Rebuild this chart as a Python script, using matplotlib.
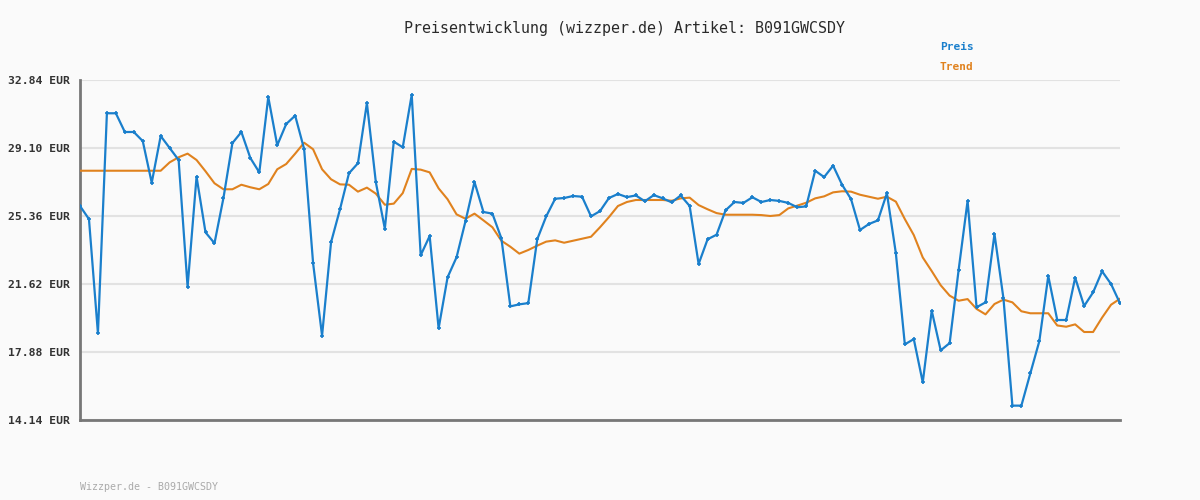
import matplotlib
matplotlib.use('Agg')
import matplotlib.pyplot as plt
import numpy as np

# prices (EUR)
preis = [25.91, 25.19, 18.91, 31.01, 31.01, 29.98, 29.98, 29.48, 27.19, 29.76,
         29.10, 28.44, 21.47, 27.52, 24.46, 23.86, 26.35, 29.37, 29.98, 28.55,
         27.76, 31.90, 29.25, 30.42, 30.88, 29.04, 22.76, 18.78, 23.91, 25.73,
         27.71, 28.26, 31.57, 27.21, 24.66, 29.45, 29.14, 32.03, 23.20, 24.26,
         19.18, 21.99, 23.09, 25.08, 27.23, 25.58, 25.49, 24.13, 20.39, 20.50,
         20.57, 24.08, 25.34, 26.31, 26.35, 26.46, 26.42, 25.34, 25.63, 26.35,
         26.57, 26.40, 26.49, 26.17, 26.51, 26.33, 26.11, 26.49, 25.91, 22.72,
         24.08, 24.33, 25.67, 26.13, 26.08, 26.39, 26.13, 26.24, 26.19, 26.08,
         25.84, 25.89, 27.85, 27.50, 28.13, 27.08, 26.29, 24.59, 24.92, 25.12,
         26.61, 23.31, 18.30, 18.59, 16.21, 20.15, 17.97, 18.37, 22.39, 26.19,
         20.34, 20.61, 24.37, 20.83, 14.93, 14.93, 16.71, 18.47, 22.06, 19.64,
         19.64, 21.97, 20.41, 21.16, 22.32, 21.62, 20.56]

trend = [27.85, 27.85, 27.85, 27.85, 27.85, 27.85, 27.85, 27.85, 27.85, 27.85,
         28.31, 28.59, 28.79, 28.44, 27.82, 27.16, 26.83, 26.83, 27.08, 26.94,
         26.83, 27.12, 27.93, 28.22, 28.79, 29.39, 29.03, 27.93, 27.38, 27.10,
         27.08, 26.70, 26.92, 26.59, 25.98, 26.04, 26.62, 27.95, 27.91, 27.76,
         26.88, 26.28, 25.45, 25.21, 25.49, 25.12, 24.74, 24.00, 23.67, 23.29,
         23.49, 23.73, 23.95, 24.02, 23.89, 24.00, 24.11, 24.22, 24.74, 25.30,
         25.91, 26.13, 26.24, 26.24, 26.24, 26.24, 26.20, 26.33, 26.37, 25.96,
         25.73, 25.52, 25.43, 25.43, 25.43, 25.43, 25.41, 25.36, 25.41, 25.78,
         25.93, 26.09, 26.33, 26.44, 26.66, 26.72, 26.70, 26.53, 26.42, 26.31,
         26.42, 26.15, 25.19, 24.31, 23.08, 22.33, 21.55, 20.98, 20.70, 20.79,
         20.25, 19.95, 20.52, 20.76, 20.61, 20.12, 20.01, 20.01, 20.01, 19.34,
         19.27, 19.40, 18.98, 18.98, 19.77, 20.48, 20.81]

y_ticks = [14.14, 17.88, 21.62, 25.36, 29.10, 32.84]
artikel = 'B091GWCSDY'

BLUE = '#1a7fcc'
ORANGE = '#e0821e'
BG = '#fafafa'
MONO = 'DejaVu Sans Mono'

fig = plt.figure(figsize=(12, 5), dpi=100, facecolor=BG)
ax = fig.add_axes([80 / 1200, 1 - 420 / 500, 1040 / 1200, 340 / 500])
ax.set_facecolor(BG)

x = np.arange(len(preis))
ax.plot(x, trend, color=ORANGE, lw=1.5, zorder=3)
ax.plot(x, preis, color=BLUE, lw=1.6, marker='+', ms=3, mew=1.2, zorder=4)

ax.set_xlim(0, len(preis) - 1)
ax.set_ylim(y_ticks[0], y_ticks[-1])
ax.set_yticks(y_ticks)
ax.set_yticklabels(['%.2f EUR' % v for v in y_ticks], fontfamily=MONO,
                   fontsize=8.2, fontweight='bold', color='#333333')
ax.set_xticks([])
ax.tick_params(axis='y', length=0, pad=7)
ax.grid(axis='y', color='#e2e2e2', lw=1.5, zorder=0)

for side in ['top', 'right']:
    ax.spines[side].set_visible(False)
for side in ['left', 'bottom']:
    ax.spines[side].set_color('#777777')
    ax.spines[side].set_linewidth(2)

fig.text(624 / 1200, 1 - 28 / 500, 'Preisentwicklung (wizzper.de) Artikel: ' + artikel,
         ha='center', va='center', fontfamily=MONO, fontsize=10.8, color='#2a2a2a')
fig.text(940 / 1200, 1 - 47 / 500, 'Preis', ha='left', va='center',
         fontfamily=MONO, fontsize=8, fontweight='bold', color=BLUE)
fig.text(940 / 1200, 1 - 67 / 500, 'Trend', ha='left', va='center',
         fontfamily=MONO, fontsize=8, fontweight='bold', color=ORANGE)
fig.text(80 / 1200, 1 - 487 / 500, 'Wizzper.de - ' + artikel, ha='left', va='center',
         fontfamily=MONO, fontsize=7.2, color='#aaaaaa')

fig.savefig('out.png', dpi=100, facecolor=BG)
